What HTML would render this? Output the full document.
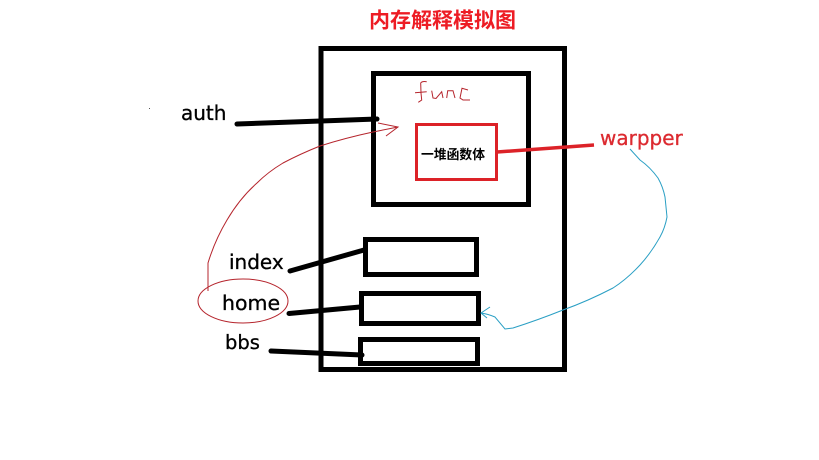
<!DOCTYPE html>
<html>
<head>
<meta charset="utf-8">
<style>
html,body{margin:0;padding:0;background:#fff;width:819px;height:460px;overflow:hidden}
svg{display:block}
text{font-family:"DejaVu Sans","Noto Sans CJK SC",sans-serif}
.cjk{font-family:"Liberation Sans","Noto Sans CJK SC",sans-serif;font-weight:bold}
</style>
</head>
<body>
<svg width="819" height="460" viewBox="0 0 819 460" xmlns="http://www.w3.org/2000/svg">
<rect width="819" height="460" fill="#fff"/>
<text class="cjk" x="369" y="27.500" font-size="21" fill="#ed1c24">内存解释模拟图</text>

<rect x="321" y="48.500" width="243.500" height="321" fill="none" stroke="#000" stroke-width="5"/>
<rect x="373.500" y="73.500" width="155" height="131" fill="none" stroke="#000" stroke-width="5"/>
<rect x="416.500" y="124.500" width="80" height="55" fill="none" stroke="#dc2228" stroke-width="3"/>
<rect x="365.500" y="239.500" width="111" height="35" fill="none" stroke="#000" stroke-width="5"/>
<rect x="361.500" y="293.500" width="117" height="30" fill="none" stroke="#000" stroke-width="5"/>
<rect x="360.500" y="339.500" width="117" height="24" fill="none" stroke="#000" stroke-width="5"/>

<g stroke="#000" stroke-width="5" stroke-linecap="round" fill="none">
<line x1="237" y1="124" x2="377" y2="119"/>
<line x1="290" y1="271" x2="364" y2="250"/>
<line x1="289" y1="313.500" x2="360" y2="307"/>
<line x1="271" y1="351" x2="362" y2="355"/>
</g>

<line x1="497" y1="152" x2="594" y2="145" stroke="#dc2228" stroke-width="3.500"/>

<g stroke-width="0.300">
<text x="181" y="120" font-size="20" fill="#000" stroke="#000">auth</text>
<text x="229" y="269" font-size="20" fill="#000" stroke="#000">index</text>
<text x="222" y="310" font-size="20.500" fill="#000" stroke="#000">home</text>
<text x="225" y="349" font-size="19.500" fill="#000" stroke="#000">bbs</text>
<text x="600" y="145" font-size="20" fill="#dc2a30" stroke="#dc2a30">warpper</text>
</g>
<text class="cjk" x="421" y="159" font-size="12.800" fill="#000">一堆函数体</text>

<g fill="none" stroke="#b5242c" stroke-width="1">
<ellipse cx="243" cy="301" rx="45" ry="22"/>
<path d="M208 291 L208 263 Q215 240 227 220 Q240 198 257 183 Q268 172 283 163 Q300 154 320 146 Q345 138 373 132 L398 127"/>
<path d="M378 123 L398 127 L386 136"/>
<path d="M426.700 81.700 Q422 81 420.700 83 L421 93 L421.700 100 L418.300 102.300 M415 92.700 L426.700 91.700 M431.700 90.700 L433 98 L436 98.500 L441.700 91.700 L443 98 M446.700 98 L447.700 90.700 L453 90.700 L455 98 M468 90 L462 88.300 L460 98 L463 100 L470 100"/>
</g>

<path d="M630 149 L640 160 Q650 167 658 178 Q663 187 665 197 L667 217 Q665 228 660 237 Q651 253 640 265 Q627 279 613 288 Q588 301 563 310 Q538 320 513 328 L505 329 L495 317 Q488 314 481 313 M490 307 L481 313 L487 318" fill="none" stroke="#2a9fc4" stroke-width="1"/>

<rect x="149" y="108" width="1" height="1" fill="#555"/>
</svg>
</body>
</html>
